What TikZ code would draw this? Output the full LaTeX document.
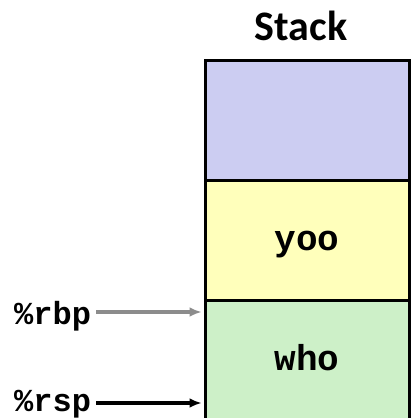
\documentclass[tikz,border=0pt]{standalone}
\usepackage{fontspec}
\usetikzlibrary{arrows.meta}
\setmainfont{Carlito}
\newfontfamily\codefont{Liberation Mono}
\definecolor{cellblue}{RGB}{204,205,242}
\definecolor{cellyellow}{RGB}{255,255,187}
\definecolor{cellgreen}{RGB}{205,240,200}
\definecolor{arrowgray}{RGB}{140,140,140}
\begin{document}
\begin{tikzpicture}[x=1pt,y=-1pt,
  cell/.style={draw=black, line width=3pt, minimum width=204pt, minimum height=120pt, inner sep=0pt, text height=20pt, text depth=0pt, font=\codefont\bfseries\fontsize{36}{40}\selectfont},
  reglabel/.style={inner sep=0pt, anchor=base west, font=\codefont\bfseries\fontsize{32}{36}\selectfont},
  regarrow/.style={line width=3.4pt, -{Latex[length=12pt,width=10pt]}}
]
\useasboundingbox (0,0) rectangle (412,418);
\clip (0,0) rectangle (412,418);
\node[font=\bfseries\fontsize{42}{46}\selectfont, anchor=base] (title) at (301,40) {Stack};
\node[cell, fill=cellblue] (c1) at (307,120) {};
\node[cell, fill=cellyellow] (c2) at (307,240) {yoo};
\node[cell, fill=cellgreen] (c3) at (307,360) {who};
\node[reglabel] (rbp) at (14,324) {\%rbp};
\node[reglabel] (rsp) at (14,411) {\%rsp};
\coordinate (rbpend) at ([yshift=12pt]rbp.base east);
\coordinate (rspend) at ([yshift=8pt]rsp.base east);
\draw[regarrow, draw=arrowgray, fill=arrowgray] ([xshift=5pt]rbpend) -- ([xshift=-2pt]rbpend -| c3.west);
\draw[regarrow] ([xshift=5pt]rspend) -- ([xshift=-2pt]rspend -| c3.west);
\end{tikzpicture}
\end{document}
